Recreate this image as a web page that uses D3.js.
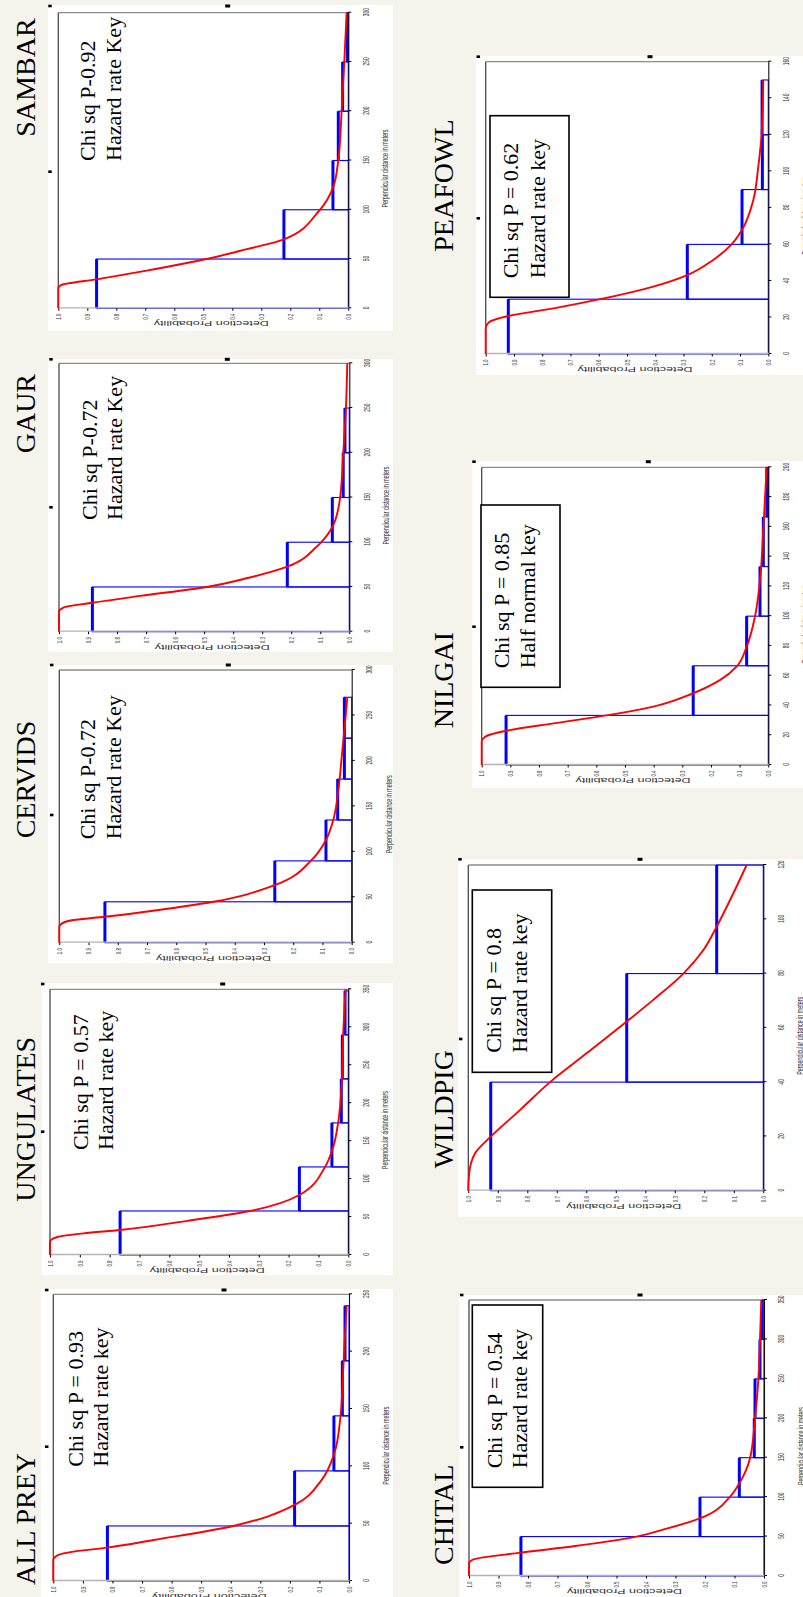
<!DOCTYPE html>
<html><head><meta charset="utf-8">
<script src="https://cdn.jsdelivr.net/npm/d3@7"></script>
<style>html,body{margin:0;padding:0;background:#f4f3ec;} svg{display:block}</style>
</head><body>
<svg id="c" width="803" height="1597"></svg>
<script>
// ---------------- DATA ----------------
const panelNames = ["ALL PREY","UNGULATES","CERVIDS","GAUR","SAMBAR","CHITAL","WILDPIG","NILGAI","PEAFOWL"];
const chiLabels = ["Chi sq P = 0.93","Chi sq P = 0.57","Chi sq P-0.72","Chi sq P-0.72","Chi sq P-0.92","Chi sq P = 0.54","Chi sq P = 0.8","Chi sq P = 0.85","Chi sq P = 0.62"];
const keyLabels = ["Hazard rate key","Hazard rate key","Hazard rate Key","Hazard rate Key","Hazard rate Key","Hazard rate key","Hazard rate key","Half normal key","Hazard rate key"];
const hasBox = [false,false,false,false,false,true,true,true,true];
const distMax = [250,350,300,300,300,350,120,200,160];
const distTicks = [
  [0,50,100,150,200,250],
  [0,50,100,150,200,250,300,350],
  [0,50,100,150,200,250,300],
  [0,50,100,150,200,250,300],
  [0,50,100,150,200,250,300],
  [0,50,100,150,200,250,300,350],
  [0,20,40,60,80,100,120],
  [0,20,40,60,80,100,120,140,160,180,200],
  [0,20,40,60,80,100,120,140,160]
];
const probTicks = [0,0.1,0.2,0.3,0.4,0.5,0.6,0.7,0.8,0.9,1.0];
const xAxisTitle = "Perpendicular distance in meters";
const yAxisTitle = "Detection Probability";

const binWidth = [48,58,45,50,50,50,40,33.33,30];
const barsAllPrey   = [0.817,0.184,0.051,0.0225,0.0135];
const barsUngulates = [0.765,0.164,0.055,0.0235,0.020,0.011];
const barsCervids   = [0.844,0.263,0.088,0.048,0.025,0.025];
const barsGaur      = [0.885,0.2135,0.0585,0.021,0.015];
const barsSambar    = [0.868,0.222,0.053,0.0345,0.0195,0.003];
const barsChital    = [0.824,0.217,0.0836,0.033,0.0305,0.0136,0.006];
const barsWildpig   = [0.924,0.463,0.158];
const barsNilgai    = [0.915,0.262,0.0756,0.029,0.0174,0.005];
const barsPeafowl   = [0.92,0.2866,0.093,0.021,0.022];

const curveAllPrey   = [[0,1.0],[18.3,1.0],[22.7,0.983],[25.6,0.932],[29.1,0.817],[35.8,0.66],[48,0.391],[56,0.278],[66.3,0.184],[88,0.093],[111,0.05],[143,0.029],[187,0.019],[240.7,0.008]];
const curveUngulates = [[0,1.0],[17.6,1.0],[24,0.972],[28.5,0.888],[33,0.765],[45,0.54],[58,0.33],[79,0.164],[116,0.078],[143,0.05],[175.7,0.0335],[226,0.022],[292,0.017],[350,0.009]];
const curveCervids   = [[0,1.0],[17.6,1.0],[21,0.992],[25,0.952],[28.6,0.844],[36,0.66],[45,0.473],[63.4,0.263],[91,0.137],[113,0.088],[135,0.063],[168,0.0456],[204.6,0.034],[241,0.023],[270,0.015]];
const curveGaur      = [[0,1.0],[22.4,1.0],[27,0.985],[32.4,0.885],[40,0.72],[50,0.491],[60,0.35],[72.7,0.2135],[95,0.1125],[117,0.0585],[149,0.032],[199,0.021],[250,0.0115],[300,0.007]];
const curveSambar    = [[0,1.0],[20.3,1.0],[23.7,0.989],[29.4,0.868],[38,0.70],[50,0.4885],[60,0.35],[70,0.222],[98,0.1034],[123,0.052],[150.5,0.0345],[200,0.023],[250,0.0138],[300,0.0057]];
const curveChital    = [[0,1.0],[16,1.0],[21,0.985],[29.6,0.824],[38,0.64],[50,0.432],[60,0.33],[73,0.217],[100.6,0.115],[117.5,0.0836],[150,0.047],[200,0.0305],[250,0.019],[300,0.0136],[350,0.009]];
const curveWildpig   = [[0,1.0],[6.4,0.997],[13.8,0.977],[19.9,0.924],[29.7,0.825],[40,0.723],[50.6,0.599],[62.3,0.463],[70.3,0.373],[80,0.271],[88.7,0.203],[97.3,0.158],[107,0.113],[120,0.0565]];
const curveNilgai    = [[0,1.0],[15.7,1.0],[19,0.988],[23,0.915],[28,0.75],[33.3,0.564],[39.2,0.401],[48.2,0.262],[57,0.169],[66.3,0.11],[79.5,0.0756],[99.7,0.0465],[124,0.029],[158,0.0174],[187,0.0093],[200,0.006]];
const curvePeafowl   = [[0,1.0],[14,1.0],[17.2,0.99],[20.8,0.92],[25,0.76],[30,0.595],[36.9,0.407],[43.2,0.2866],[51.5,0.195],[60,0.13],[68,0.093],[84.3,0.053],[102.6,0.0354],[120.8,0.0236],[150,0.0177]];

const barSets = [barsAllPrey,barsUngulates,barsCervids,barsGaur,barsSambar,barsChital,barsWildpig,barsNilgai,barsPeafowl];
const curveSets = [curveAllPrey,curveUngulates,curveCervids,curveGaur,curveSambar,curveChital,curveWildpig,curveNilgai,curvePeafowl];

// ---------------- LAYOUT (landscape page, later rotated -90deg) ----------------
const W = 803, H = 1597;
const layout = [
  {panel:[0,41,308,352],        plot:[16,302.7,53.3,349],     title:[12,35],     chi:[130.3,83.3,108.3], box:null},
  {panel:[322,41.7,292,351.3],  plot:[342,607.7,50,348.3],    title:[395.3,35],  chi:[447,88.3,113.3],   box:null},
  {panel:[634,48,298,345],      plot:[654.3,927,59.3,351.7],  title:[758.7,35],  chi:[757.7,95,120.7],  box:null},
  {panel:[945.3,48,292.4,345],  plot:[965.3,1233.7,59,349.3], title:[1143.7,35], chi:[1077,96.7,122.2],  box:null},
  {panel:[1266.3,48,325.7,345], plot:[1288.7,1584.3,58.3,348.3], title:[1460.3,35], chi:[1436,95,120.7], box:null},
  {panel:[0,459.3,302,343.7],   plot:[21,297,469,764],        title:[32,453.3],  chi:[128.7,501.7,526.7], box:[109.7,472.3,182.3,70.4]},
  {panel:[380.3,458.3,357.4,344.7], plot:[406.3,732,468.3,763.3], title:[428.7,453.3], chi:[544.3,501,526.5], box:[524.7,472.3,182.3,79.4]},
  {panel:[809.3,472.3,326.7,330.7], plot:[832,1129.7,481.7,768.3], title:[868.7,453.3], chi:[928.7,509.3,535], box:[909.7,481,182.3,79]},
  {panel:[1222,476,319,327],    plot:[1243,1535.3,485.7,768.3], title:[1345.3,453.3], chi:[1318.7,518.3,545], box:[1299.7,490,181.6,79]}
];
// selection-handle marks (screen coordinates)
const handles = [
  [[46.7,1290],[224,1290],[46.7,1446.7]],
  [[42.7,984],[222.7,984],[42.7,1131.7]],
  [[51.7,665],[228.3,665],[51.7,815]],
  [[51,359.3],[227.3,359.3],[51,507.3]],
  [[50,6],[227.7,6],[50,171.7]],
  [[461.7,1295],[640,1295],[461.7,1447.3]],
  [[460,859.3],[640,859.3],[460.7,1039]],
  [[474,461.7],[648.3,461.7],[474,626.7]],
  [[478.3,56.7],[650,56.7],[478.3,218.3]]
];

const BG = "#f4f3ec", BLUE = "#0000ff", RED = "#ff0000";
const serif = "'Liberation Serif','Times New Roman',serif";
const sans = "'Liberation Sans',Arial,sans-serif";

const svg = d3.select("#c");
svg.append("rect").attr("width",W).attr("height",H).attr("fill",BG);
const land = svg.append("g").attr("transform",`translate(0,${H}) rotate(-90)`);

panelNames.forEach((name,i)=>{
  const L = layout[i];
  const g = land.append("g");
  g.append("rect").attr("x",L.panel[0]).attr("y",L.panel[1])
    .attr("width",L.panel[2]).attr("height",L.panel[3]).attr("fill","#fff");

  const x = d3.scaleLinear().domain([0,distMax[i]]).range([L.plot[0],L.plot[1]]);
  const y = d3.scaleLinear().domain([0,1]).range([L.plot[3],L.plot[2]]);

  // frame: right side grey, top dark
  g.append("line").attr("x1",x(distMax[i])).attr("x2",x(distMax[i])).attr("y1",y(1)).attr("y2",y(0))
    .attr("stroke","#8c8c8c").attr("stroke-width",1.3);
  g.append("line").attr("x1",x(0)).attr("x2",x(distMax[i])).attr("y1",y(1)).attr("y2",y(1))
    .attr("stroke","#4a4a4a").attr("stroke-width",1.3);

  // histogram bars
  const bw = binWidth[i];
  const bg = g.append("g");
  bg.selectAll("rect").data(barSets[i]).join("rect")
    .attr("x",(d,k)=>x(k*bw)).attr("width",(d,k)=>x((k+1)*bw)-x(k*bw))
    .attr("y",d=>y(d)).attr("height",d=>y(0)-y(d))
    .attr("fill","none").attr("stroke",BLUE).attr("stroke-width",1.1);
  bg.selectAll("line").data(barSets[i]).join("line")
    .attr("x1",(d,k)=>x(k*bw)).attr("x2",(d,k)=>x((k+1)*bw))
    .attr("y1",d=>y(d)).attr("y2",d=>y(d))
    .attr("stroke",BLUE).attr("stroke-width",3);

  // axes
  const xa = g.append("g").attr("transform",`translate(0,${y(0)})`)
    .call(d3.axisBottom(x).tickValues(distTicks[i]).tickSize(3).tickSizeOuter(0).tickPadding(11).tickFormat(d3.format("d")));
  xa.select(".domain").attr("stroke","#111").attr("stroke-width",1.1);
  xa.selectAll("text").attr("font-family",sans).attr("font-size",9).attr("fill","#333")
    .attr("transform","scale(0.55,1)");
  const ya = g.append("g").attr("transform",`translate(${x(0)},0)`)
    .call(d3.axisLeft(y).tickValues(probTicks).tickSize(2.5).tickSizeOuter(0).tickFormat(d3.format(".1f")));
  ya.select(".domain").attr("stroke","#b4b4b4").attr("stroke-width",1.3);
  ya.selectAll("text").attr("x",0).attr("font-family",sans).attr("font-size",7).attr("fill","#333")
    .attr("transform","translate(-5.5,0) scale(0.62,1)");

  // fitted detection function
  const line = d3.line().x(d=>x(d[0])).y(d=>y(d[1])).curve(d3.curveMonotoneX);
  g.append("path").datum(curveSets[i]).attr("d",line)
    .attr("fill","none").attr("stroke",RED).attr("stroke-width",1.9);

  // axis titles
  g.append("text").attr("x",(x(0)+x(distMax[i]))/2-8).attr("y",y(0)+40)
    .attr("text-anchor","middle").attr("font-family",sans).attr("font-size",9)
    .attr("textLength",78).attr("lengthAdjust","spacingAndGlyphs").attr("fill","#333").text(xAxisTitle);
  g.append("text").attr("transform",`translate(${x(0)-13},${(y(0)+y(1))/2+8}) rotate(-90)`)
    .attr("text-anchor","middle").attr("font-family",sans).attr("font-size",7)
    .attr("textLength",115).attr("lengthAdjust","spacingAndGlyphs").attr("fill","#333").text(yAxisTitle);

  // legend box
  if (hasBox[i]) {
    g.append("rect").attr("x",L.box[0]).attr("y",L.box[1]).attr("width",L.box[2]).attr("height",L.box[3])
      .attr("fill","#fff").attr("stroke","#000").attr("stroke-width",1.6);
  }
  g.append("text").attr("x",L.chi[0]).attr("y",L.chi[1]).attr("font-family",serif).attr("font-size",22).text(chiLabels[i]);
  g.append("text").attr("x",L.chi[0]).attr("y",L.chi[2]).attr("font-family",serif).attr("font-size",22).text(keyLabels[i]);

  // panel title
  land.append("text").attr("x",L.title[0]).attr("y",L.title[1]).attr("font-family",serif)
    .attr("font-size",28).attr("fill","#000").text(name);
});

// selection handles (screen coords)
handles.forEach(hs=>{
  hs.forEach((p,j)=>{
    const w = j===1 ? 5 : 3.5, h = j===1 ? 3 : 2.6;
    svg.append("rect").attr("x",p[0]-w/2).attr("y",p[1]-h/2).attr("width",w).attr("height",h).attr("fill","#000");
  });
});
</script>
</body></html>
